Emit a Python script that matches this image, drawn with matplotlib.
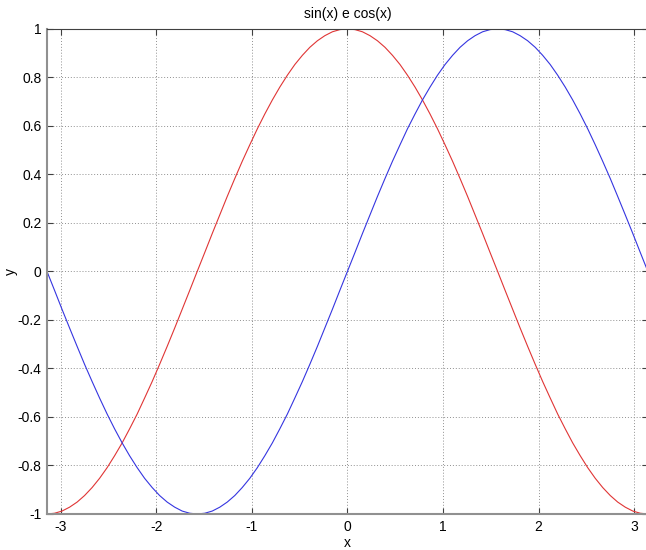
import matplotlib
matplotlib.use("Agg")
import matplotlib.pyplot as plt

plt.rcParams["font.family"] = ["Liberation Sans", "DejaVu Sans"]
plt.rcParams["axes.unicode_minus"] = False

# pontos amostrados das curvas (passo pi/40)
x = [-3.142, -3.063, -2.985, -2.906, -2.827, -2.749, -2.670, -2.592, -2.513, -2.435,
     -2.356, -2.278, -2.199, -2.121, -2.042, -1.964, -1.885, -1.806, -1.728, -1.649,
     -1.571, -1.492, -1.414, -1.335, -1.257, -1.178, -1.100, -1.021, -0.942, -0.864,
     -0.785, -0.707, -0.628, -0.550, -0.471, -0.393, -0.314, -0.236, -0.157, -0.079,
     0.000,
     0.079, 0.157, 0.236, 0.314, 0.393, 0.471, 0.550, 0.628, 0.707, 0.785,
     0.864, 0.942, 1.021, 1.100, 1.178, 1.257, 1.335, 1.414, 1.492, 1.571,
     1.649, 1.728, 1.806, 1.885, 1.964, 2.042, 2.121, 2.199, 2.278, 2.356,
     2.435, 2.513, 2.592, 2.670, 2.749, 2.827, 2.906, 2.985, 3.063, 3.142]

y_sin = [0.000, -0.078, -0.156, -0.233, -0.309, -0.383, -0.454, -0.522, -0.588, -0.649,
         -0.707, -0.760, -0.809, -0.853, -0.891, -0.924, -0.951, -0.972, -0.988, -0.997,
         -1.000, -0.997, -0.988, -0.972, -0.951, -0.924, -0.891, -0.853, -0.809, -0.760,
         -0.707, -0.649, -0.588, -0.522, -0.454, -0.383, -0.309, -0.233, -0.156, -0.078,
         0.000,
         0.078, 0.156, 0.233, 0.309, 0.383, 0.454, 0.522, 0.588, 0.649, 0.707,
         0.760, 0.809, 0.853, 0.891, 0.924, 0.951, 0.972, 0.988, 0.997, 1.000,
         0.997, 0.988, 0.972, 0.951, 0.924, 0.891, 0.853, 0.809, 0.760, 0.707,
         0.649, 0.588, 0.522, 0.454, 0.383, 0.309, 0.233, 0.156, 0.078, 0.000]

y_cos = [-1.000, -0.997, -0.988, -0.972, -0.951, -0.924, -0.891, -0.853, -0.809, -0.760,
         -0.707, -0.649, -0.588, -0.522, -0.454, -0.383, -0.309, -0.233, -0.156, -0.078,
         0.000, 0.078, 0.156, 0.233, 0.309, 0.383, 0.454, 0.522, 0.588, 0.649,
         0.707, 0.760, 0.809, 0.853, 0.891, 0.924, 0.951, 0.972, 0.988, 0.997,
         1.000,
         0.997, 0.988, 0.972, 0.951, 0.924, 0.891, 0.853, 0.809, 0.760, 0.707,
         0.649, 0.588, 0.522, 0.454, 0.383, 0.309, 0.233, 0.156, 0.078, 0.000,
         -0.078, -0.156, -0.233, -0.309, -0.383, -0.454, -0.522, -0.588, -0.649, -0.707,
         -0.760, -0.809, -0.853, -0.891, -0.924, -0.951, -0.972, -0.988, -0.997, -1.000]

x_ticks = [-3, -2, -1, 0, 1, 2, 3]
y_ticks = [-1, -0.8, -0.6, -0.4, -0.2, 0, 0.2, 0.4, 0.6, 0.8, 1]
y_tick_labels = ["-1", "-0.8", "-0.6", "-0.4", "-0.2", "0", "0.2", "0.4", "0.6", "0.8", "1"]

fig = plt.figure(figsize=(6.46, 5.5), dpi=100)
ax = fig.add_axes([0.0728, 0.0655, 0.930, 0.882])

ax.plot(x, y_cos, color="#e03535", linewidth=0.8)
ax.plot(x, y_sin, color="#3535e0", linewidth=0.8)

ax.set_xlim(-3.1416, 3.1416)
ax.set_ylim(-1, 1)
ax.set_xticks(x_ticks)
ax.set_xticklabels([str(t) for t in x_ticks])
ax.set_yticks(y_ticks)
ax.set_yticklabels(y_tick_labels)

ax.grid(True, linestyle=(0, (1, 2)), color="#909090", linewidth=0.7)
ax.tick_params(direction="in", top=True, right=True, length=4, labelsize=10,
               color="#404040", pad=4)
for s in ax.spines.values():
    s.set_color("#404040")
    s.set_linewidth(0.8)
ax.spines["left"].set_color("#909090")
ax.spines["bottom"].set_color("#909090")
ax.spines["left"].set_linewidth(1.5)
ax.spines["bottom"].set_linewidth(1.5)

ax.set_title("sin(x) e cos(x)", fontsize=10, pad=8)
ax.set_xlabel("x", fontsize=10)
ax.set_ylabel("y", fontsize=10)
ax.xaxis.set_label_coords(0.5, -0.045)
ax.yaxis.set_label_coords(-0.049, 0.5)

fig.savefig("out.png", dpi=100)
